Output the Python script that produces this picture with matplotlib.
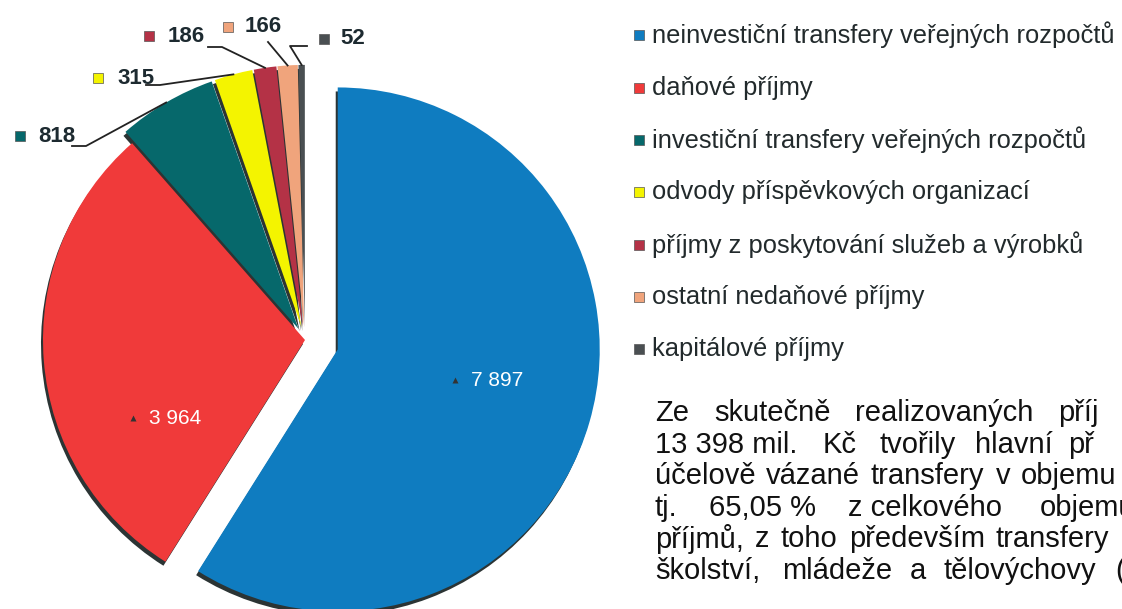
import math
import matplotlib.pyplot as plt

# data (mil. Kc)
categories = [
    "neinvestiční transfery veřejných rozpočtů",
    "daňové příjmy",
    "investiční transfery veřejných rozpočtů",
    "odvody příspěvkových organizací",
    "příjmy z poskytování služeb a výrobků",
    "ostatní nedaňové příjmy",
    "kapitálové příjmy",
]
values = [7897, 3964, 818, 315, 186, 166, 52]
value_labels = ["7 897", "3 964", "818", "315", "186", "166", "52"]
colors = ["#0f7cc0", "#f03a3a", "#06686b", "#f4f400", "#b43246", "#f0a47c", "#4a4f52"]
explode = [0.13, 0.0, 0.05, 0.05, 0.05, 0.05, 0.05]

# body text (justified lines split into words)
body_lines = [
    ["Ze", "skutečně", "realizovaných", "příj"],
    ["13 398 mil.", "Kč", "tvořily", "hlavní", "př"],
    ["účelově", "vázané", "transfery", "v", "objemu"],
    ["tj.", "65,05 %", "z celkového", "objemu"],
    ["příjmů,", "z", "toho", "především", "transfery"],
    ["školství,", "mládeže", "a", "tělovýchovy", "("],
]
body_x = [
    [655, 714, 855, 1058],
    [655, 823, 880, 975, 1068],
    [655, 766, 871, 996, 1021],
    [655, 709, 848, 1040],
    [655, 755, 781, 849, 996],
    [655, 782, 910, 944, 1115],
]
body_y = [413, 445, 476, 508, 539, 571]

cx, cy, r = 305, 340, 262

fig = plt.figure(figsize=(11.22, 6.09), dpi=100)
ax = fig.add_axes([0, 0, 1, 1])

expl = [e * r for e in explode]
# y axis is inverted below, so visual clockwise-from-top = startangle 270, counterclock
ax.pie(values, colors=["#2b3434"] * len(values), explode=expl, radius=r,
       center=(cx - 2, cy + 4), startangle=270, counterclock=True)
wedges, _ = ax.pie(values, colors=colors, explode=expl, radius=r,
                   center=(cx, cy), startangle=270, counterclock=True,
                   wedgeprops=dict(linewidth=0))

ax.set_xlim(0, 1122)
ax.set_ylim(609, 0)
ax.set_aspect("equal")
ax.axis("off")

# inner labels
inner = {0: (455, 380), 1: (133, 418)}
for i, (x, y) in inner.items():
    ax.plot(x, y, marker="^", ms=4, color="#333333", mec="none")
    ax.text(x + 16, y, value_labels[i], color="white", fontsize=15,
            family="Liberation Sans", va="center", ha="left")

# outside labels: marker x, text x, y, elbow point
outside = {
    2: (20, 38, 136, (86, 146)),
    3: (98, 117, 78, (160, 85)),
    4: (149, 168, 36, (222, 47)),
    5: (228, 245, 27, (268, 42)),
    6: (324, 340, 39, (290, 46)),
}
for i, (mx, tx, y, elbow) in outside.items():
    ax.plot(mx, y, marker="s", ms=7, color=colors[i], mec="#555555", mew=0.5)
    ax.text(tx, y, value_labels[i], fontsize=16, fontweight="bold",
            family="Liberation Sans", color="#1d2a30", va="center", ha="left")
    w = wedges[i]
    tm = math.radians((w.theta1 + w.theta2) / 2)
    px = w.center[0] + w.r * math.cos(tm)
    py = w.center[1] + w.r * math.sin(tm)
    if i == 6:
        pts = [(tx - 33, elbow[1]), elbow, (px, py)]
    elif i == 5:
        pts = [elbow, (px, py)]
    else:
        pts = [(elbow[0] - 14, elbow[1]), elbow, (px, py)]
    ax.plot([p[0] for p in pts], [p[1] for p in pts], color="#222222", lw=1.3)

# legend
leg_y = [35, 88, 140, 192, 245, 297, 349]
for name, c, y in zip(categories, colors, leg_y):
    ax.plot(639, y, marker="s", ms=7, color=c, mec="#555555", mew=0.5)
    ax.text(652, y, name, fontsize=18.4, family="Liberation Sans",
            color="#222a2c", va="center", ha="left")

# paragraph
for words, xs, y in zip(body_lines, body_x, body_y):
    for w_, x in zip(words, xs):
        ax.text(x, y, w_, fontsize=21, family="Liberation Sans",
                color="#111111", va="center", ha="left", clip_on=True)

fig.savefig("out.png", dpi=100)
